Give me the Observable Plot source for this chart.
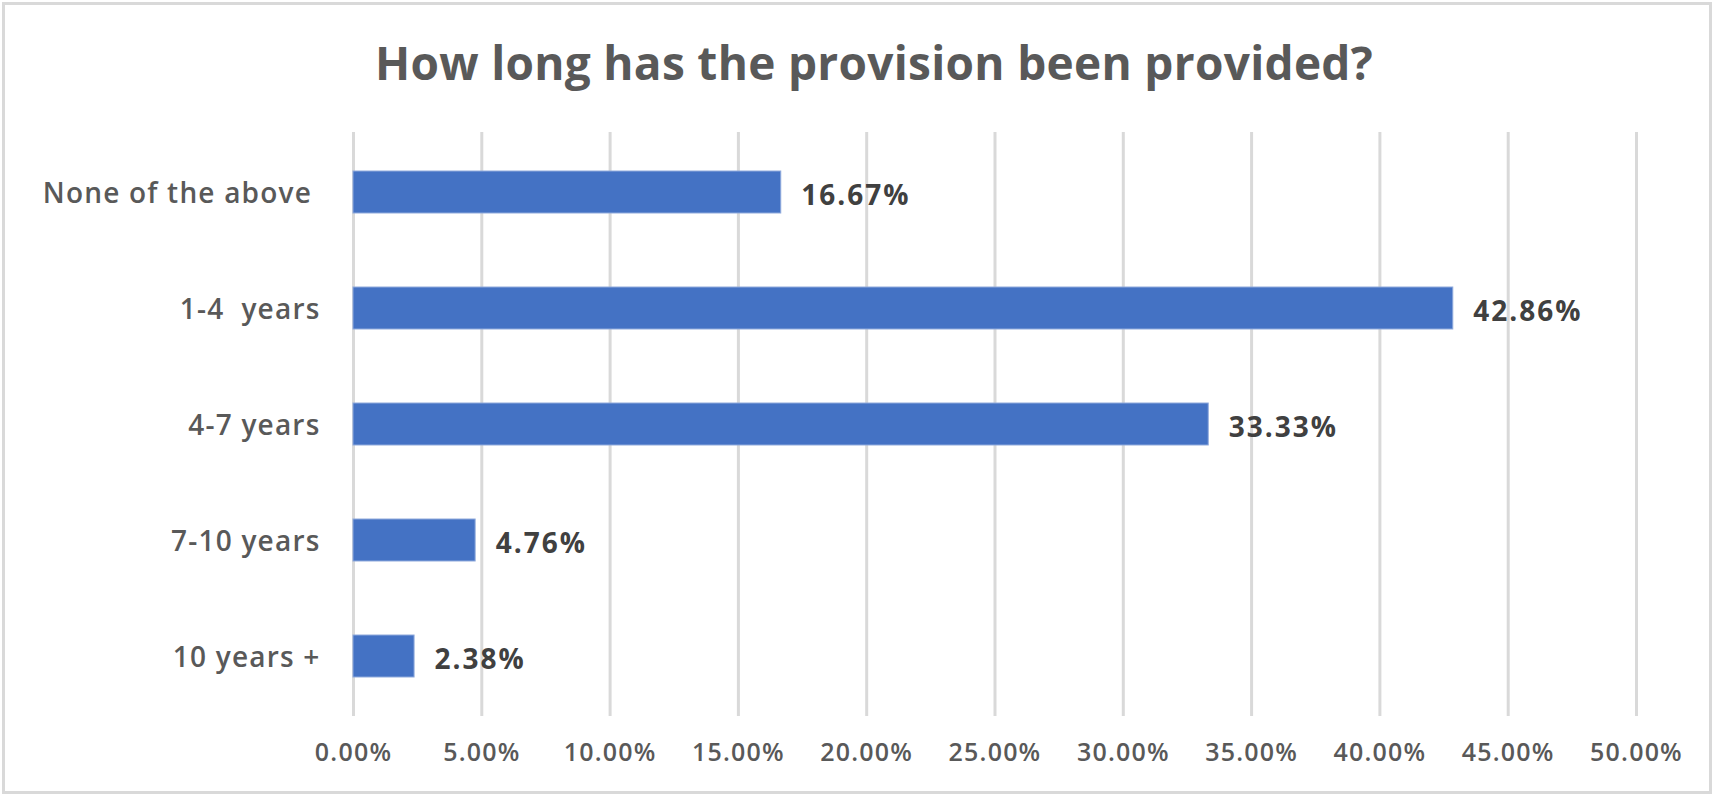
<!DOCTYPE html>
<html>
<head>
<meta charset="utf-8">
<script src="https://cdn.jsdelivr.net/npm/d3@7"></script>
<script src="https://cdn.jsdelivr.net/npm/@observablehq/plot@0.6"></script>
<style>
  html, body { margin: 0; padding: 0; background: #fff; }
  #wrap { position: relative; width: 1714px; height: 794px; overflow: hidden; font-family: "Open Sans", sans-serif; }
  #frame { position: absolute; left: 2px; top: 2px; width: 1704px; height: 786px; border: 3px solid #d9d9d9; pointer-events: none; }
  #title { height: 110px; line-height: 124px; text-align: center; font-weight: 700; font-size: 46px; color: #595959; padding-left: 34px; box-sizing: border-box; letter-spacing: 0.3px; }
  g[aria-label="y-axis tick label"] text { letter-spacing: 1.2px; white-space: pre; }
  g[aria-label="x-axis tick label"] text { letter-spacing: 1.2px; }
  g[aria-label="text"] text { letter-spacing: 2px; }
</style>
</head>
<body>
<div id="wrap">
  <div id="title">How long has the provision been provided?</div>
  <div id="chart"></div>
  <div id="frame"></div>
</div>
<script>
const categories = ["None of the above ", "1-4  years", "4-7 years", "7-10 years", "10 years +"];
const values = [0.1667, 0.4286, 0.3333, 0.0476, 0.0238];
const xTicks = [0, 0.05, 0.10, 0.15, 0.20, 0.25, 0.30, 0.35, 0.40, 0.45, 0.50];

const data = categories.map((c, i) => ({category: c, value: values[i]}));

const chart = Plot.plot({
  width: 1714,
  height: 684,
  marginTop: 22,
  marginBottom: 78,
  marginLeft: 353,
  marginRight: 78,
  style: {fontFamily: "'Open Sans', sans-serif", background: "#fff"},
  x: {domain: [0, 0.5]},
  y: {domain: categories, paddingInner: 0.64, paddingOuter: 0.32},
  marks: [
    Plot.gridX(xTicks, {stroke: "#d9d9d9", strokeOpacity: 1, strokeWidth: 3}),
    Plot.barX(data, {x: "value", y: "category", fill: "#4472C4", stroke: "#8faadc", strokeWidth: 1}),
    Plot.text(data, {x: "value", y: "category", text: d => d3.format(".2%")(d.value), dx: 20, dy: 4, textAnchor: "start", fontSize: 28, fontWeight: 700, fill: "#404040"}),
    Plot.axisX({ticks: xTicks, tickFormat: d3.format(".2%"), tickSize: 0, tickPadding: 27, fontSize: 25, fontWeight: 600, color: "#595959", label: null}),
    Plot.axisY({tickSize: 0, tickPadding: 33, dy: 2, fontSize: 28, fontWeight: 600, color: "#595959", label: null})
  ]
});
document.getElementById("chart").appendChild(chart);
</script>
</body>
</html>
